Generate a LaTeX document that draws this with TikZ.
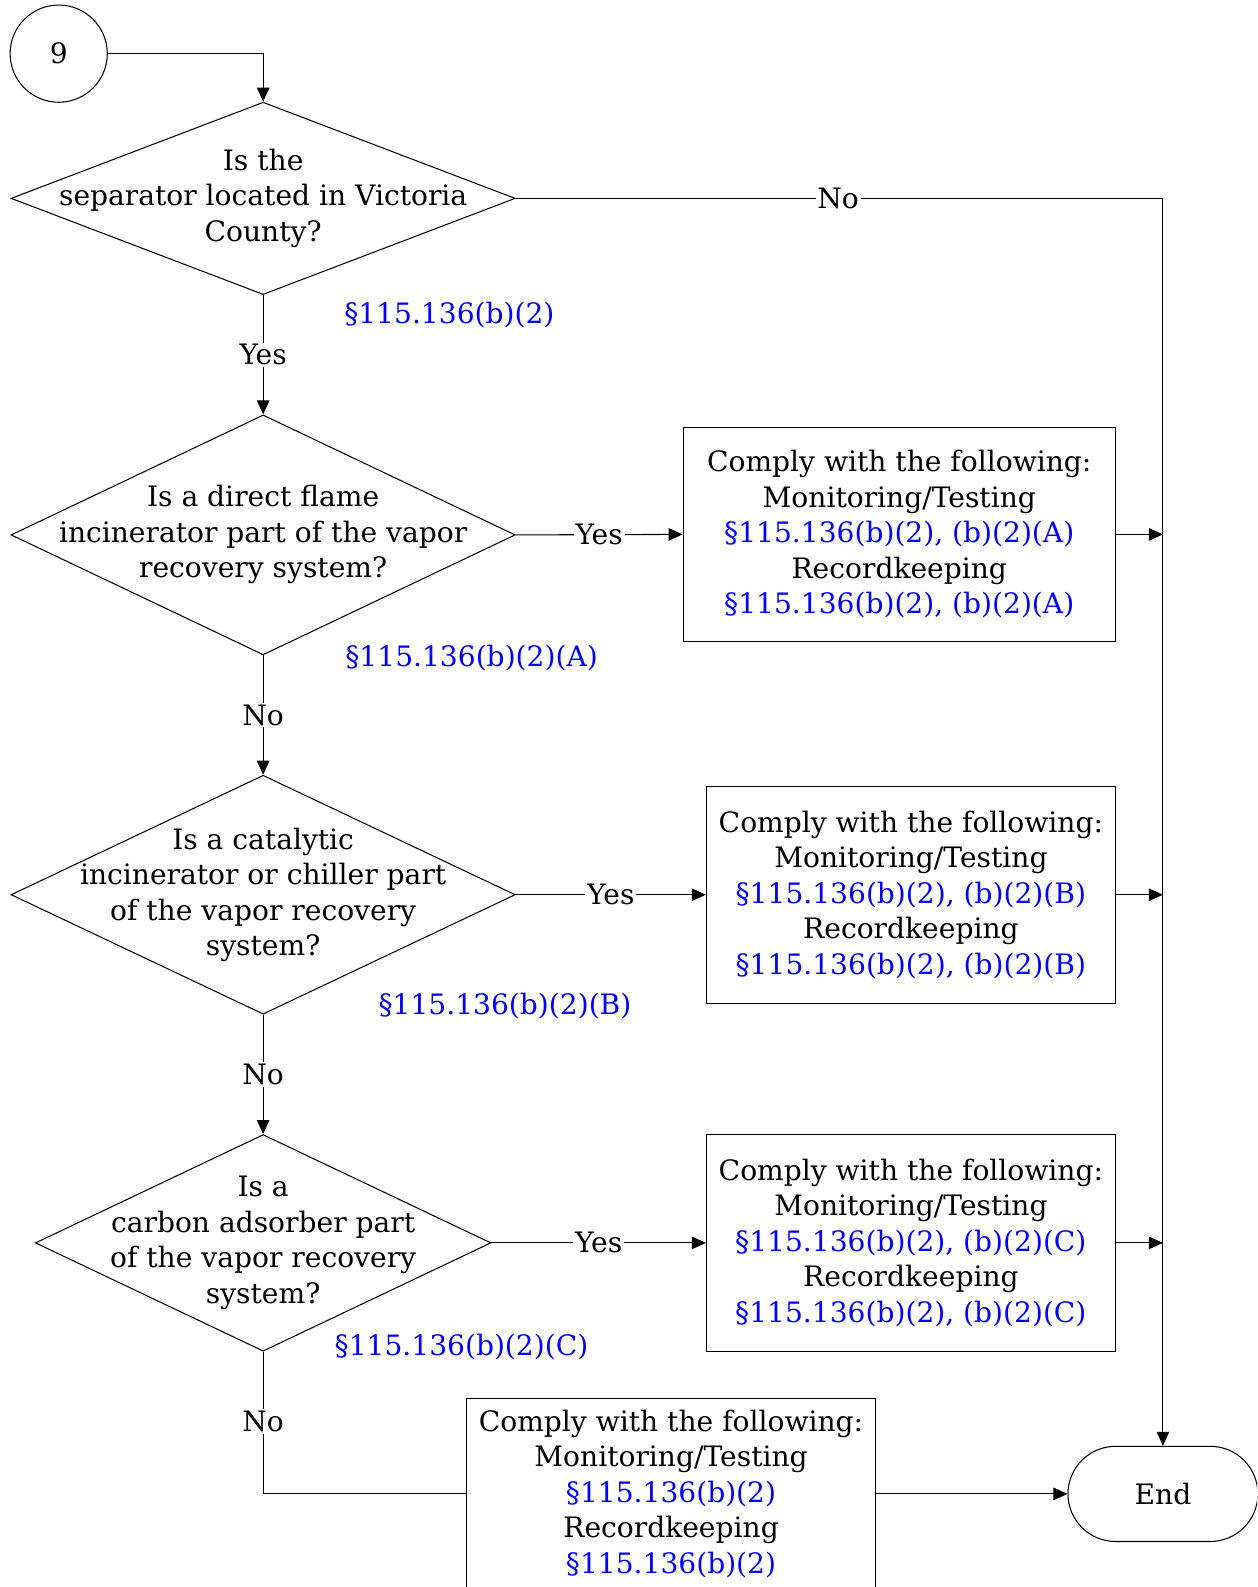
\documentclass[tikz,border=0pt]{standalone}
\usepackage{fontspec}
\setmainfont{DejaVu Serif}
\usetikzlibrary{shapes.geometric, shapes.misc, arrows.meta}
\definecolor{reflink}{rgb}{0,0,1}
\tikzset{every node/.style={font=\fontsize{16pt}{20.2pt}\selectfont}}
\tikzset{ %flowchart parts
    line/.style={line width=0.6pt},
    arr/.style={line, -{Triangle[length=0.28cm, width=0.25cm]}},
    conn/.style={circle, draw, line width=0.6pt, minimum size=1.943cm, inner sep=0pt},
    dec/.style={diamond, draw, line width=0.6pt, inner sep=0pt},
    qtext/.style={align=center, inner sep=0pt},
    act/.style={rectangle, draw, line width=0.6pt, align=center, inner sep=0pt},
    term/.style={rounded rectangle, draw, line width=0.6pt, minimum width=4.03cm, minimum height=1.903cm},
    ans/.style={fill=white, inner sep=1pt},
    sect/.style={text=reflink, inner sep=0pt},
}

\begin{document}
\begin{tikzpicture}[x=0.02024cm, y=-0.02024cm]
		\clip (0,0) rectangle (1242,1568);
		% nodes
		\node[conn] (c9) at (58,53) {9};
		\node[dec, minimum width=10.08cm, minimum height=3.846cm,
			label={[qtext]center:Is the\\separator located in Victoria\\County?}] (q1) at (260,196) {};
		\node[dec, minimum width=10.08cm, minimum height=4.797cm,
			label={[qtext]center:Is a direct flame\\incinerator part of the vapor\\recovery system?}] (q2) at (260,528.5) {};
		\node[dec, minimum width=10.08cm, minimum height=4.777cm,
			label={[qtext]center:Is a catalytic\\incinerator or chiller part\\of the vapor recovery\\system?}] (q3) at (260,884) {};
		\node[dec, minimum width=9.108cm, minimum height=4.331cm,
			label={[qtext]center:Is a\\carbon adsorber part\\of the vapor recovery\\system?}] (q4) at (260,1228) {};
		\node[act, minimum width=8.642cm, minimum height=4.291cm] (b1) at (888.5,528) {Comply with the following:\\Monitoring/Testing\\\textcolor{reflink}{§115.136(b)(2), (b)(2)(A)}\\Recordkeeping\\\textcolor{reflink}{§115.136(b)(2), (b)(2)(A)}};
		\node[act, minimum width=8.177cm, minimum height=4.331cm] (b2) at (900,884) {Comply with the following:\\Monitoring/Testing\\\textcolor{reflink}{§115.136(b)(2), (b)(2)(B)}\\Recordkeeping\\\textcolor{reflink}{§115.136(b)(2), (b)(2)(B)}};
		\node[act, minimum width=8.177cm, minimum height=4.331cm] (b3) at (900,1228) {Comply with the following:\\Monitoring/Testing\\\textcolor{reflink}{§115.136(b)(2), (b)(2)(C)}\\Recordkeeping\\\textcolor{reflink}{§115.136(b)(2), (b)(2)(C)}};
		\node[act, minimum width=8.177cm, minimum height=3.805cm] (b4) at (663,1476) {Comply with the following:\\Monitoring/Testing\\\textcolor{reflink}{§115.136(b)(2)}\\Recordkeeping\\\textcolor{reflink}{§115.136(b)(2)}};
		\node[term] (end) at (1149,1476) {End};
		% rule references
		\node[sect] (s1) at (444,311) {§115.136(b)(2)};
		\node[sect] (s2) at (466,650) {§115.136(b)(2)(A)};
		\node[sect] (s3) at (499,994) {§115.136(b)(2)(B)};
		\node[sect] (s4) at (456,1331) {§115.136(b)(2)(C)};
		% connectors
		\draw[arr] (c9.east) -| (q1.north);
		\draw[arr] (q1.east) -| node[ans, pos=0.249] {No} (end.north);
		\draw[arr] (q1.south) -- node[ans] {Yes} (q2.north);
		\draw[arr] (q2.east) -- node[ans] {Yes} (b1.west);
		\draw[arr] (q2.south) -- node[ans] {No} (q3.north);
		\draw[arr] (q3.east) -- node[ans] {Yes} (b2.west);
		\draw[arr] (q3.south) -- node[ans] {No} (q4.north);
		\draw[arr] (q4.east) -- node[ans] {Yes} (b3.west);
		\draw[line] (q4.south) |- node[ans, pos=0.245] {No} (b4.west);
		\foreach \b in {b1,b2,b3}{
			\draw[arr] (\b.east) -- (\b.east -| end.north);
		}
		\draw[arr] (b4.east) -- (end.west);
	\end{tikzpicture}
\end{document}
